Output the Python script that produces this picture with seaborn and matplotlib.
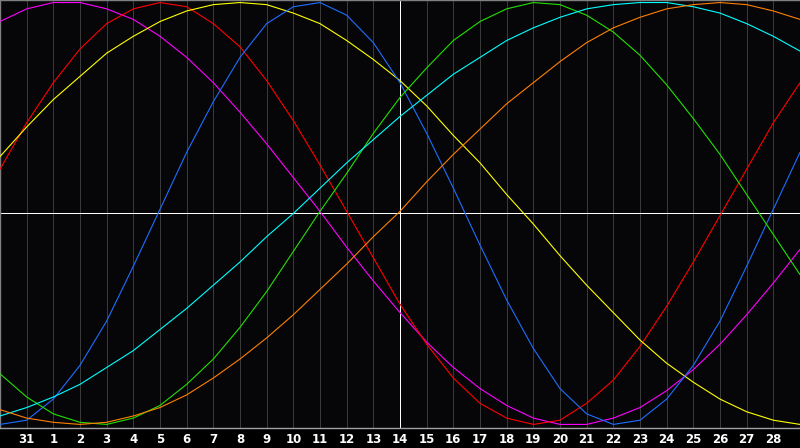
import numpy as np
import pandas as pd
import matplotlib
matplotlib.use('Agg')
import matplotlib.pyplot as plt
import seaborn as sns

# days shown: the 30th of the previous month (-1) up to the 29th, 31st is day 0
days = list(range(-1, 30))
day_ticks = list(range(0, 29))
day_labels = ['31'] + [str(d) for d in range(1, 29)]
today = 14

# values, one per day (-1 .. 29), in units of amplitude
physical = [-1.00, -0.98, -0.88, -0.72, -0.51, -0.25, 0.02, 0.29, 0.53, 0.74,
            0.90, 0.98, 1.00, 0.94, 0.81, 0.62, 0.38, 0.12, -0.15, -0.41,
            -0.64, -0.83, -0.95, -1.00, -0.98, -0.88, -0.72, -0.51, -0.25, 0.02, 0.29]
emotional = [0.21, 0.43, 0.62, 0.78, 0.90, 0.97, 1.00, 0.98, 0.90, 0.79,
             0.63, 0.44, 0.23, 0.01, -0.21, -0.43, -0.62, -0.78, -0.90, -0.97,
             -1.00, -0.98, -0.90, -0.79, -0.63, -0.44, -0.23, -0.01, 0.21, 0.43, 0.62]
intellectual = [-0.76, -0.87, -0.95, -0.99, -1.00, -0.97, -0.91, -0.81, -0.69, -0.54,
                -0.37, -0.18, 0.01, 0.19, 0.38, 0.55, 0.69, 0.82, 0.91, 0.97,
                1.00, 0.99, 0.94, 0.86, 0.75, 0.61, 0.45, 0.28, 0.09, -0.10, -0.29]
intuitive = [0.91, 0.97, 1.00, 1.00, 0.97, 0.92, 0.84, 0.74, 0.62, 0.48,
             0.33, 0.17, 0.01, -0.16, -0.32, -0.47, -0.61, -0.73, -0.83, -0.91,
             -0.97, -1.00, -1.00, -0.97, -0.92, -0.84, -0.74, -0.62, -0.48, -0.33, -0.17]
aesthetic = [0.27, 0.41, 0.54, 0.65, 0.76, 0.84, 0.91, 0.96, 0.99, 1.00,
             0.99, 0.95, 0.90, 0.82, 0.73, 0.63, 0.51, 0.37, 0.24, 0.09,
             -0.05, -0.20, -0.34, -0.47, -0.60, -0.71, -0.80, -0.88, -0.94, -0.98, -1.00]
awareness = [-0.93, -0.97, -0.99, -1.00, -0.99, -0.96, -0.92, -0.86, -0.78, -0.69,
             -0.59, -0.48, -0.36, -0.24, -0.11, 0.01, 0.15, 0.28, 0.40, 0.52,
             0.62, 0.72, 0.81, 0.88, 0.93, 0.97, 0.99, 1.00, 0.99, 0.96, 0.92]
spiritual = [-0.96, -0.92, -0.87, -0.81, -0.73, -0.65, -0.55, -0.45, -0.34, -0.23,
             -0.11, 0.00, 0.12, 0.24, 0.35, 0.46, 0.56, 0.66, 0.74, 0.82,
             0.88, 0.93, 0.97, 0.99, 1.00, 1.00, 0.98, 0.95, 0.90, 0.84, 0.77]

series = {
    'intuitive': intuitive,
    'emotional': emotional,
    'aesthetic': aesthetic,
    'physical': physical,
    'intellectual': intellectual,
    'spiritual': spiritual,
    'awareness': awareness,
}
colors = {
    'intuitive': '#ff00ff',
    'emotional': '#ff0000',
    'aesthetic': '#ffff00',
    'physical': '#1e6eff',
    'intellectual': '#22e000',
    'spiritual': '#00ffff',
    'awareness': '#ff8000',
}

df = pd.concat([pd.DataFrame({'day': days, 'value': v, 'cycle': k}) for k, v in series.items()])

sns.set_style('dark')
plt.rcParams['font.family'] = ['DejaVu Sans']

fig = plt.figure(figsize=(8, 4.48), dpi=100, facecolor='black')
ax = fig.add_axes([0, 20 / 448, 1, 428 / 448])
ax.set_facecolor('#060609')

# day grid
for d in day_ticks:
    if d != today:
        ax.axvline(d, color='#3a3a3a', linewidth=0.72, zorder=1)

sns.lineplot(data=df, x='day', y='value', hue='cycle', palette=colors,
             linewidth=0.8, legend=False, ax=ax, zorder=3, sort=False)

ax.axvline(today, color='white', linewidth=0.72, zorder=2)
ax.axhline(0, color='white', linewidth=0.72, zorder=2)

ax.set_xlim(-1, 29)
ax.set_ylim(-1.017, 1.012)
ax.set_xticks(day_ticks)
ax.set_xticklabels(day_labels, color='white', fontsize=8.5, fontweight='bold')
ax.set_yticks([])
ax.tick_params(axis='x', length=0, pad=3.5)
ax.set_xlabel('')
ax.set_ylabel('')
ax.grid(False)

for side in ['left', 'top']:
    ax.spines[side].set_color('#808080')
    ax.spines[side].set_linewidth(1.0)
ax.spines['bottom'].set_color('#a0a0a0')
ax.spines['bottom'].set_linewidth(1.0)
ax.spines['right'].set_visible(False)

fig.savefig('out.png', dpi=100, facecolor='black')
